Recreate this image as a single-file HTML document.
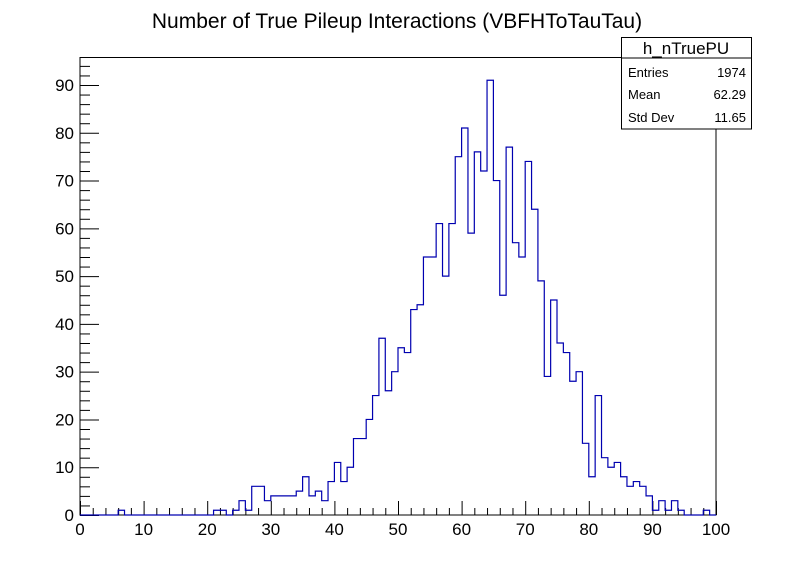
<!DOCTYPE html>
<html><head><meta charset="utf-8"><style>
body{margin:0;background:#fff;}
svg{display:block;font-family:"Liberation Sans",Arial,sans-serif;}
</style></head><body>
<svg id="c" width="796" height="572">
<rect x="0" y="0" width="796" height="572" fill="#fff"/>
<text x="397" y="28" font-size="21" text-anchor="middle">Number of True Pileup Interactions (VBFHToTauTau)</text>
<rect x="80" y="57.5" width="636" height="457.5" fill="none" stroke="#000" stroke-width="1"/>
<g id="xaxis"></g>
<g id="yaxis"></g>
<path id="hist" fill="none" stroke="#0000b0" stroke-width="1.2"/>
<g>
<rect x="621.5" y="37.5" width="130" height="91.5" fill="#fff" stroke="#000"/>
<line x1="621.5" y1="58" x2="751.5" y2="58" stroke="#000"/>
<text x="686" y="54" font-size="17" text-anchor="middle">h_nTruePU</text>
<text x="628" y="77" font-size="13">Entries</text>
<text x="746" y="77" font-size="13" text-anchor="end">1974</text>
<text x="628" y="99" font-size="13">Mean</text>
<text x="746" y="99" font-size="13" text-anchor="end">62.29</text>
<text x="628" y="122" font-size="13">Std Dev</text>
<text x="746" y="122" font-size="13" text-anchor="end">11.65</text>
</g>
</svg>
<script>
const binEdgesLow = 0, binWidth = 1;
const counts = [0,0,0,0,0,0,1,0,0,0, 0,0,0,0,0,0,0,0,0,0,
0,1,1,0,1,3,1,6,6,3, 4,4,4,4,5,8,4,5,3,7,
11,7,10,16,16,20,25,37,26,30, 35,34,43,44,54,54,61,50,61,75,
81,59,76,72,91,70,46,77,57,54, 74,64,49,29,45,36,34,28,30,15,
8,25,12,10,11,8,6,7,6,4, 1,3,1,3,1,0,0,0,1,0];
const xTickLabels = [0,10,20,30,40,50,60,70,80,90,100];
const yTickLabels = [0,10,20,30,40,50,60,70,80,90];
const X0=80,X1=716,Y0=515,PXY=4.7778;
const xs=v=>X0+(v-0)*(X1-X0)/100;
const ys=v=>Y0-v*PXY;
const NS="http://www.w3.org/2000/svg";
const xa=document.getElementById('xaxis'), ya=document.getElementById('yaxis');
function ln(g,x1,y1,x2,y2){const l=document.createElementNS(NS,'line');l.setAttribute('x1',x1);l.setAttribute('y1',y1);l.setAttribute('x2',x2);l.setAttribute('y2',y2);l.setAttribute('stroke','#000');g.appendChild(l);return l;}
function tx(g,x,y,s,anchor){const t=document.createElementNS(NS,'text');t.setAttribute('x',x);t.setAttribute('y',y);t.setAttribute('font-size','17');t.setAttribute('text-anchor',anchor);t.textContent=s;g.appendChild(t);return t;}
for(let v=0;v<=100;v+=2){const x=xs(v)+0.5;const major=v%10===0;const l=ln(xa,x,Y0,x,Y0-(major?14:7));

}
xTickLabels.forEach(v=>{const t=tx(xa,xs(v),535,String(v),'middle');

});
for(let v=0;v<=95;v+=2){const y=ys(v)+0.5;const major=v%10===0;const l=ln(ya,X0,y,X0+(major?19:10),y);

}
yTickLabels.forEach(v=>{const t=tx(ya,74,ys(v)+6,String(v),'end');

});
let d='M'+xs(binEdgesLow)+','+ys(0);
counts.forEach((c,i)=>{const a=xs(binEdgesLow+i*binWidth),b=xs(binEdgesLow+(i+1)*binWidth);d+=' L'+a+','+ys(c)+' L'+b+','+ys(c);});
d+=' L'+xs(100)+','+ys(0);
document.getElementById('hist').setAttribute('d',d);
</script>
</body></html>
